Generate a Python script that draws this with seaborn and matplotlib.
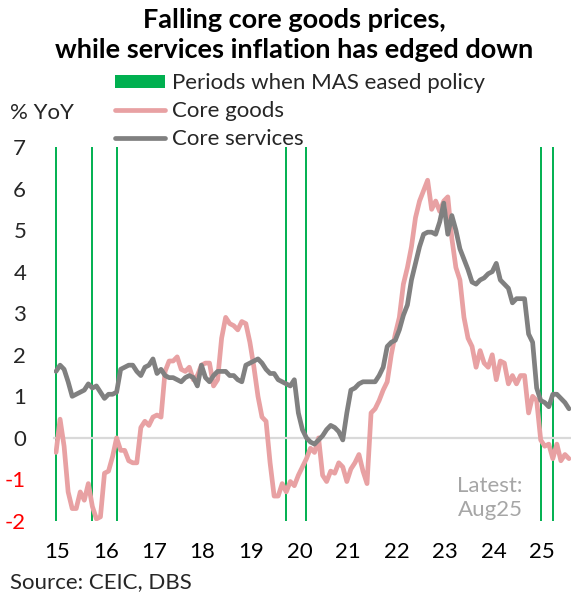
import numpy as np
import pandas as pd
import matplotlib
matplotlib.use("Agg")
import matplotlib.pyplot as plt
import seaborn as sns
from matplotlib.patches import Patch
from matplotlib.lines import Line2D

# monthly, Jan 2015 .. Aug 2025 (% YoY)
core_goods = [
    -0.35, 0.45, -0.2, -1.3, -1.7, -1.7, -1.3, -1.5, -1.1, -1.65, -1.95, -1.9,
    -0.85, -0.8, -0.45, 0.0, -0.3, -0.3, -0.55, -0.6, -0.6, 0.25, 0.4, 0.3,
    0.5, 0.55, 0.5, 1.6, 1.85, 1.85, 1.95, 1.65, 1.6, 1.7, 1.4, 1.5,
    1.75, 1.8, 1.8, 1.25, 1.4, 2.4, 2.9, 2.75, 2.7, 2.6, 2.8, 2.75,
    2.3, 1.7, 1.0, 0.5, 0.4, -0.6, -1.4, -1.4, -1.1, -1.3, -1.05, -1.15,
    -0.9, -0.7, -0.5, -0.25, -0.35, 0.0, -0.9, -1.05, -0.8, -0.85, -0.6, -0.7,
    -1.05, -0.75, -0.6, -0.4, -0.8, -1.1, 0.6, 0.7, 0.9, 1.15, 1.35, 2.0,
    2.5, 2.9, 3.7, 4.1, 4.6, 5.3, 5.7, 5.95, 6.2, 5.5, 5.7, 5.45,
    5.7, 5.8, 4.8, 4.1, 3.8, 2.9, 2.4, 2.2, 1.7, 2.1, 1.8, 1.7,
    2.0, 1.4, 1.85, 1.8, 1.3, 1.5, 1.3, 1.5, 1.5, 0.6, 1.0, 0.9,
    -0.05, -0.2, -0.15, -0.5, -0.15, -0.55, -0.4, -0.5,
]
core_services = [
    1.6, 1.75, 1.65, 1.35, 1.0, 1.05, 1.1, 1.15, 1.3, 1.2, 1.25, 1.1,
    0.95, 1.05, 1.05, 1.1, 1.65, 1.7, 1.75, 1.75, 1.6, 1.5, 1.7, 1.75,
    1.9, 1.55, 1.65, 1.5, 1.45, 1.45, 1.4, 1.35, 1.45, 1.5, 1.45, 1.25,
    1.75, 1.45, 1.35, 1.5, 1.6, 1.6, 1.6, 1.5, 1.5, 1.4, 1.35, 1.75,
    1.8, 1.85, 1.9, 1.8, 1.65, 1.55, 1.55, 1.4, 1.35, 1.3, 1.25, 1.4,
    0.6, 0.2, 0.0, -0.1, -0.15, -0.05, 0.05, 0.2, 0.3, 0.25, 0.15, -0.05,
    0.6, 1.15, 1.2, 1.3, 1.35, 1.35, 1.35, 1.35, 1.5, 1.7, 2.2, 2.3,
    2.35, 2.6, 2.95, 3.2, 3.8, 4.2, 4.6, 4.9, 4.95, 4.95, 4.9, 5.2,
    5.65, 4.9, 5.35, 5.0, 4.55, 4.3, 4.05, 3.75, 3.7, 3.8, 3.85, 3.95,
    4.0, 4.2, 3.8, 3.7, 3.6, 3.25, 3.35, 3.35, 3.35, 2.5, 2.3, 1.2,
    0.9, 0.85, 0.75, 1.05, 1.05, 0.95, 0.85, 0.7,
]
easing_months = ["2015-01", "2015-10", "2016-04", "2019-10", "2020-03", "2025-01", "2025-04"]
year_labels = ["15", "16", "17", "18", "19", "20", "21", "22", "23", "24", "25"]
y_ticks = [-2, -1, 0, 1, 2, 3, 4, 5, 6, 7]

dates = pd.date_range("2015-01-01", periods=len(core_goods), freq="MS")
df = pd.DataFrame({"m": np.arange(len(dates)), "goods": core_goods, "services": core_services})
ease_idx = [dates.get_loc(pd.Timestamp(d + "-01")) for d in easing_months]

sns.set_style("white")
plt.rcParams["font.family"] = ["Lato", "DejaVu Sans"]

PINK = "#E8A1A3"
GREY = "#808080"
GREEN = "#00B050"
TXT = "#262626"
FS = 16

fig = plt.figure(figsize=(5.71, 5.96), dpi=100)
ax = fig.add_axes([54 / 571, 75 / 596, 517 / 571, 374 / 596])

for i in ease_idx:
    ax.axvline(i, color=GREEN, lw=1.4, zorder=1)

sns.lineplot(data=df, x="m", y="goods", ax=ax, color=PINK, lw=3.4, zorder=3)
sns.lineplot(data=df, x="m", y="services", ax=ax, color=GREY, lw=3.4, zorder=4)

ax.set_xlim(-0.5, len(df) - 0.5)
ax.set_ylim(-2, 7)
ax.set_xlabel("")
ax.set_ylabel("")

for s in ["top", "right", "left"]:
    ax.spines[s].set_visible(False)
ax.spines["bottom"].set_position(("data", 0))
ax.spines["bottom"].set_color("#D9D9D9")
ax.spines["bottom"].set_linewidth(1.6)
ax.spines["bottom"].set_zorder(2)

ax.set_xticks(np.arange(-0.5, len(df), 12))
ax.tick_params(axis="x", length=5, width=1.6, color="#D9D9D9", labelbottom=False)
for k, lab in enumerate(year_labels):
    ax.text(12 * k + 0.3, -0.083, lab, transform=ax.get_xaxis_transform(),
            ha="center", va="center", fontsize=FS, color="black")

ax.set_yticks(y_ticks)
ax.set_yticklabels([str(v) for v in y_ticks], fontsize=FS)
for lab, v in zip(ax.get_yticklabels(), y_ticks):
    lab.set_color("#FF0000" if v < 0 else TXT)
ax.tick_params(axis="y", length=0, pad=20)

fig.text(294 / 571, 1 - 35 / 596, "Falling core goods prices,\nwhile services inflation has edged down",
         ha="center", va="center", fontsize=19.5, fontweight="bold", color="black", linespacing=1.27)
fig.text(10 / 571, 1 - 113 / 596, "% YoY", ha="left", va="center", fontsize=FS, color=TXT)
fig.text(10 / 571, 1 - 582 / 596, "Source: CEIC, DBS", ha="left", va="center", fontsize=FS, color=TXT)
fig.text(490 / 571, 1 - 498 / 596, "Latest:\nAug25", ha="center", va="center", fontsize=FS,
         color="#A6A6A6", linespacing=1.25)

handles = [
    Patch(facecolor=GREEN, edgecolor="none", label="Periods when MAS eased policy"),
    Line2D([], [], color=PINK, lw=3.4, label="Core goods"),
    Line2D([], [], color=GREY, lw=3.4, label="Core services"),
]
fig.legend(handles=handles, loc="upper left", bbox_to_anchor=(115 / 571, 1 - 73 / 596),
           frameon=False, fontsize=FS, handlelength=2.25, handleheight=0.52,
           handletextpad=0.3, labelspacing=0.36, borderpad=0, borderaxespad=0,
           labelcolor=TXT)

fig.savefig("out.png", dpi=100)
